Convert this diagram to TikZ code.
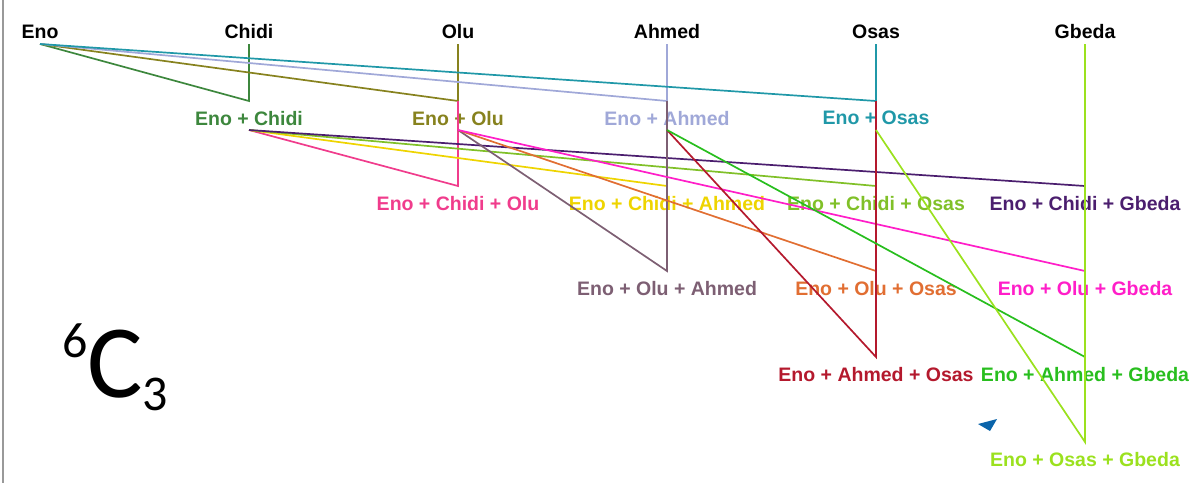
\documentclass[tikz,border=0pt]{standalone}
\usepackage{fontspec}
\setmainfont{Liberation Sans}
\newfontfamily\carlito{Carlito}
\usepackage{tikz}
\usetikzlibrary{positioning}
\definecolor{pairchidi}{RGB}{61,135,61}
\definecolor{pairolu}{RGB}{135,130,30}
\definecolor{pairahmed}{RGB}{160,168,216}
\definecolor{pairosas}{RGB}{32,152,168}
\definecolor{chidiolu}{RGB}{240,60,140}
\definecolor{chidiahmed}{RGB}{238,212,0}
\definecolor{chidiosas}{RGB}{128,192,40}
\definecolor{chidigbeda}{RGB}{75,30,110}
\definecolor{oluahmed}{RGB}{125,95,115}
\definecolor{oluosas}{RGB}{225,110,50}
\definecolor{olugbeda}{RGB}{255,30,200}
\definecolor{ahmedosas}{RGB}{180,25,45}
\definecolor{ahmedgbeda}{RGB}{40,190,30}
\definecolor{osasgbeda}{RGB}{155,225,30}
\definecolor{cursorblue}{RGB}{10,100,170}

\begin{document}
\begin{tikzpicture}[x=1pt, y=-1pt,
    lbl/.style={font=\fontsize{19.5}{22}\selectfont\bfseries, inner sep=0pt},
    link/.style={line width=1.7pt}]
    \useasboundingbox (0,0) rectangle (1198,483);

    % Page edge
    \draw[gray!80, line width=1.6pt] (3,0) -- (3,483);

    % Names
    \foreach \x/\who in {40/Eno, 249/Chidi, 458/Olu, 667/Ahmed, 876/Osas, 1085/Gbeda} {
        \node[lbl] (\who) at (\x,32) {\who};
        \coordinate (\who-top) at (\x,44);
    }

    % Pairs
    \def\pairs{Chidi/pairchidi, Olu/pairolu, Ahmed/pairahmed, Osas/pairosas}
    \foreach \who/\col in \pairs {
        \coordinate (Eno\who-end) at (\who-top |- 0,101);
        \coordinate (Eno\who-start) at (\who-top |- 0,130);
        \node[lbl, text=\col, below=10pt of Eno\who-end] (Eno\who) {Eno + \who};
    }

    % Triples
    \def\triples{Chidi/Olu/186/EnoOlu-end/chidiolu,
        Chidi/Ahmed/186/EnoAhmed-end/chidiahmed,
        Chidi/Osas/186/EnoOsas-end/chidiosas,
        Chidi/Gbeda/186/Gbeda-top/chidigbeda,
        Olu/Ahmed/271/EnoAhmed-end/oluahmed,
        Olu/Osas/271/EnoOsas-end/oluosas,
        Olu/Gbeda/271/Gbeda-top/olugbeda,
        Ahmed/Osas/357/EnoOsas-end/ahmedosas,
        Ahmed/Gbeda/357/Gbeda-top/ahmedgbeda,
        Osas/Gbeda/442/Gbeda-top/osasgbeda}
    \foreach \a/\b/\y/\up/\col in \triples {
        \coordinate (Eno\a\b-end) at (\b-top |- 0,\y);
        \node[lbl, text=\col, below=10pt of Eno\a\b-end] (Eno\a\b) {Eno + \a\ + \b};
    }

    % Links (drawn over the labels)
    \foreach \who/\col in \pairs
        \draw[link, \col] (Eno-top) -- (Eno\who-end) -- (\who-top);
    \foreach \a/\b/\y/\up/\col in \triples
        \draw[link, \col] (Eno\a-start) -- (Eno\a\b-end) -- (\up);

    % Count
    \node[anchor=base west, inner sep=0pt, font=\carlito\fontsize{104}{110}\selectfont] (count) at (62,397)
        {\raisebox{40pt}{\fontsize{50}{50}\selectfont 6}C\raisebox{-13pt}{\fontsize{50}{50}\selectfont 3}};

    % Cursor
    \fill[cursorblue] (978,424) -- (997,419) -- (990,431) -- cycle;
\end{tikzpicture}
\end{document}
